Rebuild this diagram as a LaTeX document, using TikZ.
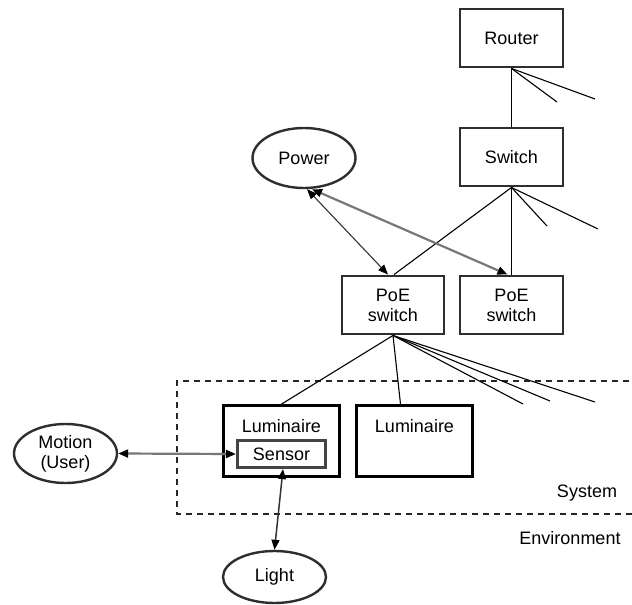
\documentclass[tikz,border=0pt]{standalone}
\usepackage{fontspec}
\setmainfont{Liberation Sans}
\usetikzlibrary{arrows.meta,positioning,shapes.geometric}
\definecolor{boxEdge}{HTML}{2E2E2E}
\definecolor{sensEdge}{HTML}{444444}
\definecolor{linkGrey}{HTML}{777777}
\definecolor{linkDark}{HTML}{333333}

\begin{document}
\begin{tikzpicture}[x=1pt,y=-1pt,
    every node/.style={font=\fontsize{18}{20}\selectfont,inner sep=0pt},
    netbox/.style={draw=boxEdge,line width=2.4pt,minimum width=102.5pt,minimum height=58.5pt,align=center},
    lumbox/.style={draw=black,line width=2.8pt,minimum width=116pt,minimum height=71pt},
    sensbox/.style={draw=sensEdge,line width=3.2pt,minimum width=88pt,minimum height=27pt},
    actor/.style={ellipse,draw=boxEdge,line width=2.4pt,minimum width=103pt,align=center},
    wire/.style={black,line width=1.1pt},
    flow/.style={{Triangle[length=10pt,width=8pt,color=black]}-{Triangle[length=10pt,width=8pt,color=black]}}]
  \useasboundingbox (0,0) rectangle (632,605);
  % boundary between system and environment
  \draw[black!85,line width=1.3pt,dash pattern=on 6pt off 5pt] (640,381) -- (177,381) -- (177,514) -- (640,514);
  \node (sysTxt) at (587,493) {System};
  \node (envTxt) at (570,538) {Environment};

  % network
  \node[netbox] (router) at (511.5,38) {Router};
  \node[netbox] (switch) at (511.5,157) {Switch};
  \node[netbox] (poeA) at (393,305) {PoE\\switch};
  \node[netbox] (poeB) at (511.5,305) {PoE\\switch};
  \node[actor,minimum height=60pt] (power) at (304,158) {Power};

  % luminaires
  \node[lumbox] (lumA) at (281.5,441) {};
  \node[lumbox] (lumB) at (414.5,441) {};
  \node[anchor=base] (lumAtxt) at ([yshift=-28pt]lumA.north) {Luminaire};
  \node[anchor=base] (lumBtxt) at ([yshift=-28pt]lumB.north) {Luminaire};
  \node[sensbox] (sensor) at (281.5,454) {Sensor};

  \node[actor,minimum height=59pt] (motion) at (65.5,453.5) {Motion\\(User)};
  \node[actor,minimum height=52pt] (light) at (274.5,577) {Light};

  % wiring
  \draw[wire] (router.south) -- (switch.north);
  \draw[wire] (switch.south) -- ([xshift=1pt]poeA.north);
  \draw[wire] (switch.south) -- (poeB.north);
  \draw[wire] (poeA.south) -- (lumA.north);
  \draw[wire] (poeA.south) -- ([xshift=-14pt]lumB.north);
  \foreach \n/\x/\y in {a/557/102,b/595/99}{%
    \coordinate (rt\n) at (\x,\y);
    \draw[wire] (router.south) -- (rt\n);
  }
  \foreach \n/\x/\y in {a/547/226,b/598/229}{%
    \coordinate (sw\n) at (\x,\y);
    \draw[wire] (switch.south) -- (sw\n);
  }
  \foreach \n/\x/\y in {a/523/404,b/550/401,c/595/402}{%
    \coordinate (pe\n) at (\x,\y);
    \draw[wire] (poeA.south) -- (pe\n);
  }

  % interactions
  \draw[flow,linkDark,line width=1.1pt] ([xshift=3pt]power.south) -- ([xshift=-5pt]poeA.north);
  \draw[flow,linkGrey,line width=2.2pt] ([xshift=8pt]power.south) -- ([xshift=-4pt]poeB.north);
  \draw[flow,linkGrey,line width=2.2pt] (motion.east) -- (sensor.west);
  \draw[flow,linkDark,line width=1.5pt] ([xshift=1.5pt]sensor.south) -- (light.north);
\end{tikzpicture}
\end{document}
